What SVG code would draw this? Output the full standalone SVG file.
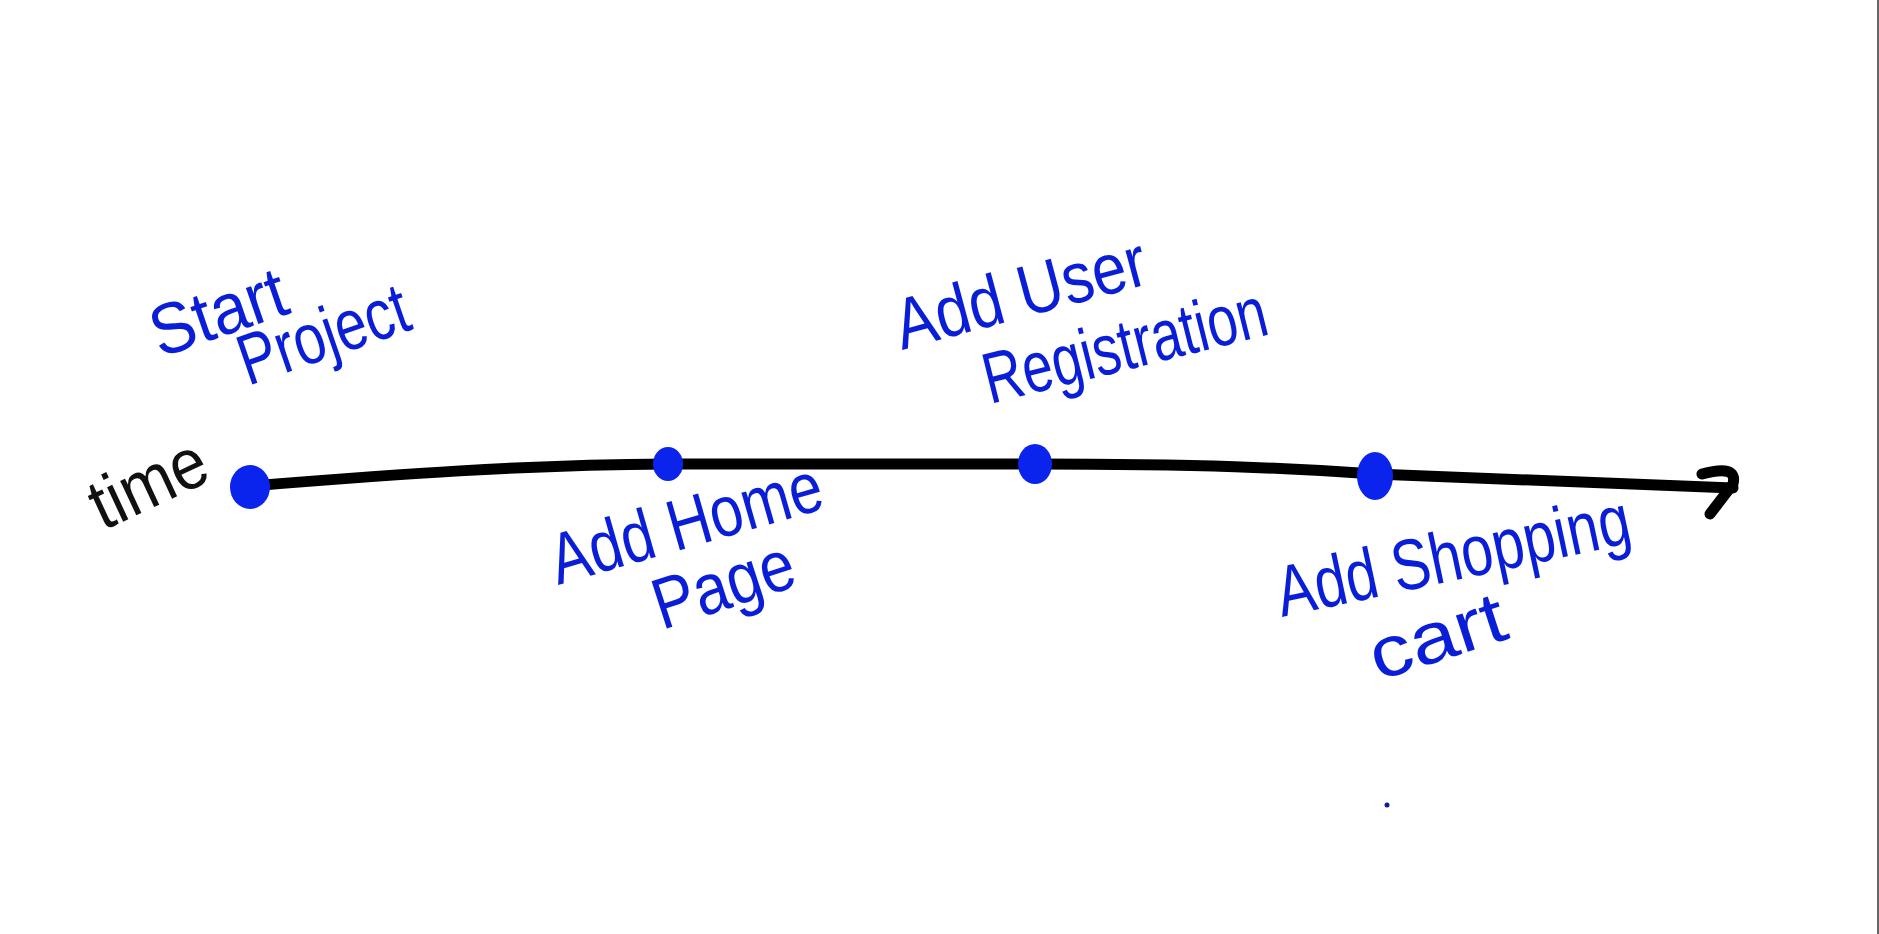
<svg xmlns="http://www.w3.org/2000/svg" width="1879" height="934" viewBox="0 0 1879 934">
<style>
.lbl{font-family:"Liberation Sans",Arial,sans-serif;font-size:72px;fill:#0a1ed8;}
.blk{fill:#111;}
.dot{fill:#0a24ee;}
.ln{fill:none;stroke:#000;stroke-width:11;stroke-linecap:round;stroke-linejoin:round;}
</style>
<rect width="1879" height="934" fill="#ffffff"/>
<line x1="1878" y1="0" x2="1878" y2="934" stroke="#666" stroke-width="2"/>
<g id="connectors">
<path class="ln" d="M250,486 C400,474 520,465 668,464 L1035,464 C1200,464 1290,468 1375,474 C1500,480 1620,484 1733,488"/>
<path class="ln" d="M1702,474 Q1738,464 1733,484 L1710,514"/>
</g>
<g id="time"><text class="lbl blk" transform="translate(103,531) rotate(-25)" textLength="122" lengthAdjust="spacingAndGlyphs">time</text></g>
<g id="start-project">
<ellipse class="dot" cx="250" cy="487" rx="20" ry="22"/>
<text class="lbl" transform="translate(160,358) rotate(-19)" textLength="140" lengthAdjust="spacingAndGlyphs">Start</text>
<text class="lbl" transform="translate(248,386) rotate(-19)" textLength="176" lengthAdjust="spacingAndGlyphs">Project</text>
</g>
<g id="add-home-page">
<ellipse class="dot" cx="668" cy="464" rx="15" ry="17"/>
<text class="lbl" transform="translate(558,585) rotate(-16)" textLength="280" lengthAdjust="spacingAndGlyphs">Add Home</text>
<text class="lbl" transform="translate(662,630) rotate(-18)" textLength="145" lengthAdjust="spacingAndGlyphs">Page</text>
</g>
<g id="add-user-registration">
<ellipse class="dot" cx="1035" cy="464" rx="17" ry="20"/>
<text class="lbl" transform="translate(902,350) rotate(-15)" textLength="258" lengthAdjust="spacingAndGlyphs">Add User</text>
<text class="lbl" transform="translate(990,404) rotate(-14)" textLength="290" lengthAdjust="spacingAndGlyphs">Registration</text>
</g>
<g id="add-shopping-cart">
<ellipse class="dot" cx="1375" cy="476" rx="18" ry="24"/>
<text class="lbl" transform="translate(1282,617) rotate(-12)" textLength="360" lengthAdjust="spacingAndGlyphs">Add Shopping</text>
<text class="lbl" transform="translate(1378,681) rotate(-18)" textLength="140" lengthAdjust="spacingAndGlyphs">cart</text>
</g>
<circle cx="1387" cy="805" r="2.5" fill="#0a1e9a"/>
</svg>
